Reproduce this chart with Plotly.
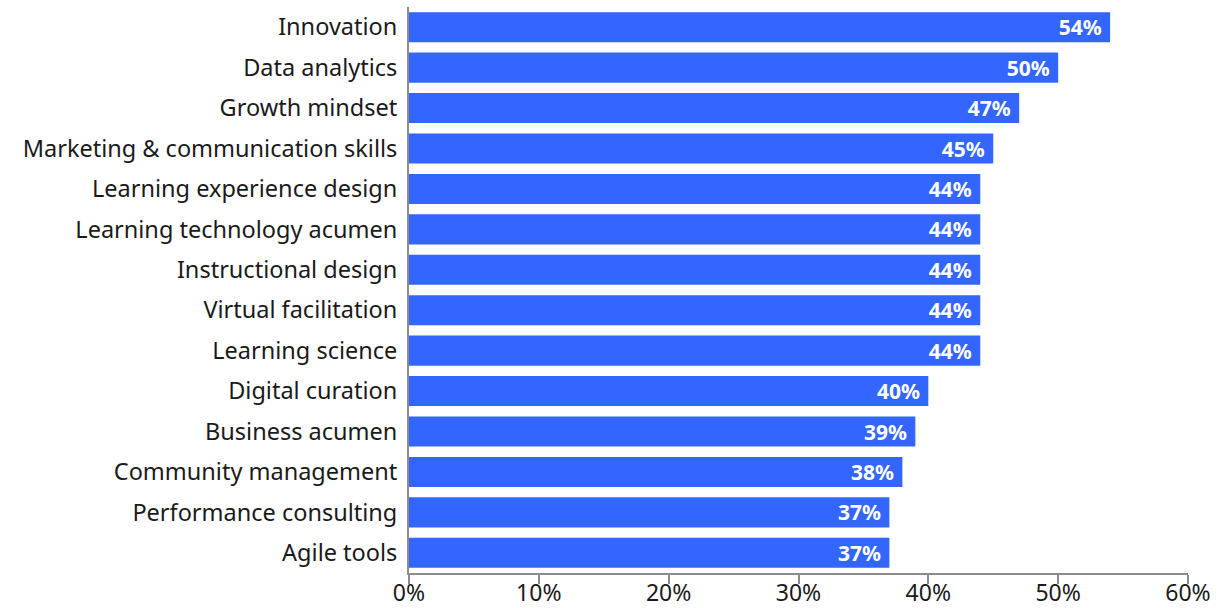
import plotly.graph_objects as go

skills = [
    "Innovation",
    "Data analytics",
    "Growth mindset",
    "Marketing & communication skills",
    "Learning experience design",
    "Learning technology acumen",
    "Instructional design",
    "Virtual facilitation",
    "Learning science",
    "Digital curation",
    "Business acumen",
    "Community management",
    "Performance consulting",
    "Agile tools",
]
share = [54, 50, 47, 45, 44, 44, 44, 44, 44, 40, 39, 38, 37, 37]
tick_vals = [0, 10, 20, 30, 40, 50, 60]
tick_text = ["0%", "10%", "20%", "30%", "40%", "50%", "60%"]

FONT = "'Noto Sans', 'Open Sans', sans-serif"
BLUE = "#3366FF"

fig = go.Figure(
    go.Bar(
        x=share,
        y=skills,
        orientation="h",
        marker=dict(color=BLUE, line=dict(width=0)),
        text=[f"{v}%\u00a0" for v in share],
        textposition="inside",
        insidetextanchor="end",
        textangle=0,
        constraintext="none",
        textfont=dict(family=FONT, size=21, color="white", weight="bold"),
        cliponaxis=False,
    )
)

fig.update_layout(
    width=1225,
    height=608,
    margin=dict(l=409, r=37, t=7, b=35, autoexpand=False),
    plot_bgcolor="white",
    paper_bgcolor="white",
    bargap=0.257,
    showlegend=False,
    font=dict(family=FONT, size=23.5, color="#1a1a1a"),
)

fig.update_xaxes(
    range=[0, 60],
    tickvals=tick_vals,
    ticktext=tick_text,
    automargin=False,
    showgrid=False,
    zeroline=False,
    showline=True,
    linecolor="#8c8c8c",
    linewidth=2,
    ticks="outside",
    ticklen=9,
    tickwidth=2,
    tickcolor="#8c8c8c",
    ticklabelstandoff=-11,
    tickfont=dict(family=FONT, size=23, color="#1a1a1a"),
)

fig.update_yaxes(
    categoryorder="array",
    categoryarray=skills[::-1],
    range=[-0.5, len(skills) - 0.5],
    automargin=False,
    showgrid=False,
    showline=True,
    linecolor="#8c8c8c",
    linewidth=2,
    ticks="",
    ticklabelstandoff=5,
    tickfont=dict(family=FONT, size=23.5, color="#1a1a1a"),
)

fig.write_html("out.html")
